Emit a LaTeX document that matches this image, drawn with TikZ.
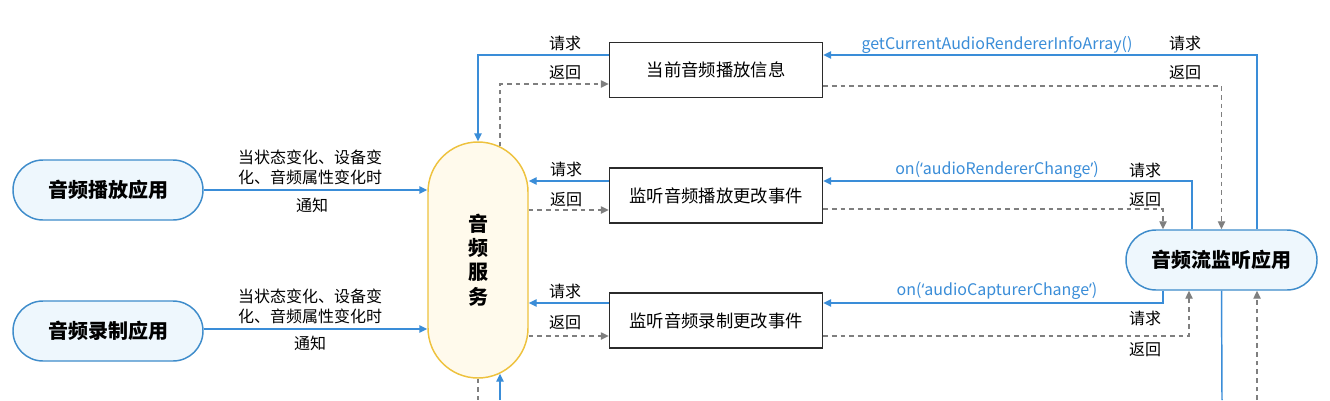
\documentclass[tikz,border=0pt]{standalone}
\usepackage{fontspec}
\setmainfont{Noto Sans CJK SC}
\newfontfamily\latq{Noto Sans}
\usetikzlibrary{arrows.meta,calc}
\definecolor{cblue}{HTML}{3A8DD8}
\definecolor{pillb}{HTML}{3E8CCB}
\definecolor{pillf}{HTML}{EEF7FD}
\definecolor{svcb}{HTML}{EEC23E}
\definecolor{svcf}{HTML}{FFFAEC}
\definecolor{dgray}{HTML}{7F7F7F}
\definecolor{boxb}{HTML}{2B2B2B}
\begin{document}
\begin{tikzpicture}[x=0.75pt,y=-0.75pt,
  tip/.style={-{Triangle[length=6pt,width=5.5pt]}},
  bline/.style={draw=cblue,line width=1.1pt},
  blu/.style={bline,tip},
  dline/.style={draw=dgray,line width=1pt,dash pattern=on 3.5pt off 3pt},
  dsh/.style={dline,-{Triangle[length=6pt,width=5.5pt,fill=dgray]}},
  app/.style={draw=pillb,fill=pillf,line width=1.1pt,rounded corners=22.5pt,
    minimum width=142.5pt,minimum height=45pt,inner sep=0pt,
    font=\fontsize{15pt}{18pt}\selectfont\bfseries},
  svcbox/.style={draw=svcb,fill=svcf,line width=1.1pt,rounded corners=37.5pt,
    minimum width=75pt,minimum height=177pt,inner sep=0pt,align=center,
    font=\fontsize{15pt}{18.3pt}\selectfont\bfseries},
  infobox/.style={draw=boxb,line width=1.1pt,minimum width=159.75pt,
    minimum height=41.25pt,inner sep=0pt,font=\fontsize{13pt}{16pt}\selectfont},
  lbl/.style={inner sep=0pt,align=center,font=\fontsize{12pt}{15pt}\selectfont},
  blbl/.style={lbl,text=cblue}]
\fill[white] (0,0) rectangle (1330,400);
\useasboundingbox (0,0) rectangle (1330,400);

% nodes
\node[app] (play) at (108,190) {音频播放应用};
\node[app] (rec) at (108,331) {音频录制应用};
\node[app,minimum width=143.25pt] (mon) at (1221.5,260) {音频流监听应用};
\node[svcbox] (svc) at (478,260) {音\\频\\服\\务};
\node[infobox] (box1) at (716,70) {当前音频播放信息};
\node[infobox] (box2) at (716,195.5) {监听音频播放更改事件};
\node[infobox] (box3) at (716,320.5) {监听音频录制更改事件};

% free ends
\coordinate (b1) at (478,400);
\coordinate (b2) at (500,400);
\coordinate (b3) at (1222,400);
\coordinate (b4) at (1257,400);

% apps -> service
\draw[blu] (play.east) -- (play.east -| svc.west);
\draw[blu] (rec.east |- 0,329) -- (svc.west |- 0,329);
\node[lbl] (t1) at (310,167) {当状态变化、设备变\\化、音频属性变化时};
\node[lbl] (n1) at (312,205) {通知};
\node[lbl] (t2) at (310,306) {当状态变化、设备变\\化、音频属性变化时};
\node[lbl] (n2) at (310,343) {通知};

% box1
\draw[blu] (box1.west |- 0,55) -| (svc.north);
\draw[dsh] ($(svc.north)+(22,5)$) |- (box1.west |- 0,84);
\draw[blu] (mon.north -| 1257,0) |- (box1.east |- 0,55);
\draw[dsh] (box1.east |- 0,86) -| (mon.north);
\node[lbl] (q1) at (565,43) {请求};
\node[lbl] (r1) at (565,73) {返回};
\node[blbl] (f1) at (997,45) {getCurrentAudioRendererInfoArray()};
\node[lbl] (q1r) at (1185,43) {请求};
\node[lbl] (r1r) at (1185,73) {返回};

% box2
\draw[blu] (mon.north -| 1192,0) |- (box2.east |- 0,181);
\draw[blu] (box2.west |- 0,181) -- (svc.east |- 0,181);
\draw[dsh] (svc.east |- 0,210) -- (box2.west |- 0,210);
\draw[dsh] (box2.east |- 0,209) -| (mon.north -| 1163,0);
\node[lbl] (q2) at (566,169) {请求};
\node[lbl] (r2) at (566,200) {返回};
\node[blbl] (f2) at (997,170) {on({\latq ‘}audioRendererChange{\latq ’})};
\node[lbl] (q2r) at (1145,170) {请求};
\node[lbl] (r2r) at (1145,200) {返回};

% box3
\draw[blu] (mon.south -| 1163,0) |- (box3.east |- 0,303);
\draw[blu] (box3.west |- 0,303) -- (svc.east |- 0,303);
\draw[dsh] (svc.east |- 0,336) -- (box3.west |- 0,336);
\draw[dsh] (box3.east |- 0,336) -| (mon.south -| 1189,0);
\node[lbl] (q3) at (565,291) {请求};
\node[lbl] (r3) at (565,323) {返回};
\node[blbl] (f3) at (997,291) {on({\latq ‘}audioCapturerChange{\latq ’})};
\node[lbl] (q3r) at (1145,318) {请求};
\node[lbl] (r3r) at (1145,350) {返回};

% bottom connectors
\draw[dline] (svc.south) -- (b1);
\draw[blu] (b2) -- ($(svc.south)+(22,-5)$);
\draw[bline] (mon.south) -- (b3);
\draw[dsh] (b4) -- (mon.south -| 1257,0);
\end{tikzpicture}
\end{document}
